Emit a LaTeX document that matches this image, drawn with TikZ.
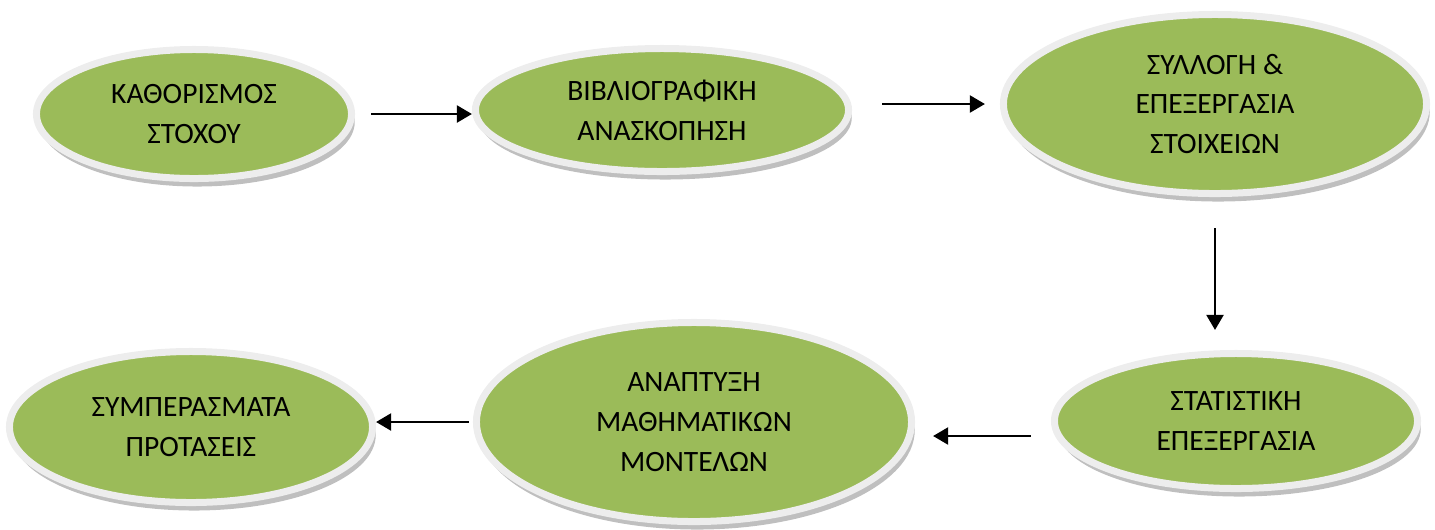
\documentclass[tikz,border=0pt]{standalone}
\usepackage{fontspec}
\setmainfont{Carlito}
\usepackage{tikz}
\usetikzlibrary{arrows.meta,shapes.geometric,shadows}

\definecolor{stagegreen}{HTML}{9BBB59}
\definecolor{stagering}{HTML}{EDEDED}

\tikzset{
  stage/.style={ellipse, fill=stagegreen, draw=stagering, line width=0.175cm,
    inner sep=0pt, align=center, text=black,
    font=\fontsize{21}{28.4}\selectfont,
    drop shadow={shadow xshift=0.08cm, shadow yshift=-0.2cm, fill=black!50, opacity=0.5}},
  flow/.style={-{Triangle[length=0.375cm,width=0.42cm]}, line width=1.9pt, black}
}

\begin{document}
\begin{tikzpicture}[x=0.025cm,y=-0.025cm]
  \useasboundingbox (0,0) rectangle (1435,529);

      \draw (194,114) node[stage, minimum width=7.875cm, minimum height=3.225cm] (kathorismos) {ΚΑΘΟΡΙΣΜΟΣ\\ΣΤΟΧΟΥ};
  \draw (662,110) node[stage, minimum width=9.325cm, minimum height=3.075cm] (bibliografia) {ΒΙΒΛΙΟΓΡΑΦΙΚΗ\\ΑΝΑΣΚΟΠΗΣΗ};
  \draw (1215,104) node[stage, minimum width=10.575cm, minimum height=4.475cm] (syllogi) {ΣΥΛΛΟΓΗ \&\\ΕΠΕΞΕΡΓΑΣΙΑ\\ΣΤΟΙΧΕΙΩΝ};
      \draw (1236,421) node[stage, minimum width=9.075cm, minimum height=3.375cm] (statistiki) {ΣΤΑΤΙΣΤΙΚΗ\\ΕΠΕΞΕΡΓΑΣΙΑ};
  \draw (694,422) node[stage, minimum width=10.875cm, minimum height=4.975cm] (anaptyxi) {ΑΝΑΠΤΥΞΗ\\ΜΑΘΗΜΑΤΙΚΩΝ\\ΜΟΝΤΕΛΩΝ};
  \draw (191,427) node[stage, minimum width=9.075cm, minimum height=3.775cm] (symperasmata) {ΣΥΜΠΕΡΑΣΜΑΤΑ\\ΠΡΟΤΑΣΕΙΣ};

      \path[flow, shorten <=0.4cm] (kathorismos.east) edge (kathorismos.east -| bibliografia.west);
      \path[flow, shorten <=0.75cm, shorten >=0.375cm] (bibliografia.east |- syllogi.west) edge (syllogi.west);
      \path[flow, shorten <=0.78cm, shorten >=0.5cm] (syllogi.south) edge (syllogi.south |- statistiki.north);
      \path[flow, shorten <=0.5cm, shorten >=0.45cm] ([yshift=-0.375cm]statistiki.west) edge ([yshift=-0.375cm]statistiki.west -| anaptyxi.east);
      \path[flow, shorten <=0.1cm] (anaptyxi.west) edge (anaptyxi.west -| symperasmata.east);
\end{tikzpicture}
\end{document}
